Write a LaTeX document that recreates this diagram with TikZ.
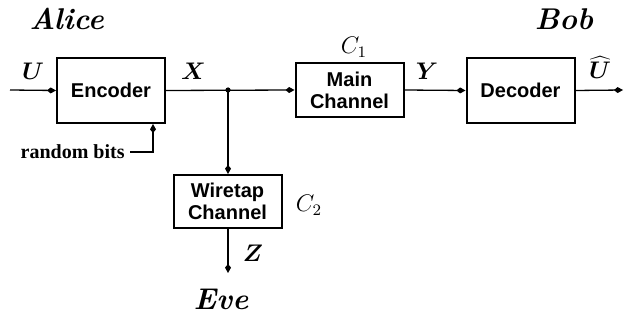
\documentclass[tikz,border=0pt]{standalone}
\usepackage{bm}
\usepackage{fontspec}
\newfontfamily\boxfont{Liberation Sans}
\newfontfamily\bitsfont{Liberation Serif}
\usetikzlibrary{arrows.meta}

\tikzset{
  blk/.style={draw,line width=1pt,minimum width=54pt,minimum height=32.5pt,
    align=center,inner sep=1pt,font=\boxfont\bfseries\fontsize{10}{11}\selectfont},
  sig/.style={line width=0.65pt,-{Kite[length=4.5pt,width=3pt,inset=1.8pt]}},
  party/.style={anchor=base,font=\fontsize{15}{17}\selectfont\bfseries\itshape},
  var/.style={anchor=base,inner sep=0pt,font=\fontsize{12}{14}\selectfont},
  capac/.style={anchor=base,inner sep=0pt,font=\fontsize{12}{14}\selectfont},
}

\begin{document}
\begin{tikzpicture}[x=0.5pt,y=-0.5pt]
  \useasboundingbox (0,0) rectangle (632,320);
  % blocks
  \node[blk] (enc) at (111,90.5) {Encoder};
  \node[blk,minimum height=27pt] (main) at (349.5,90) {Main\\Channel};
  \node[blk] (dec) at (520.5,90.5) {Decoder};
  \node[blk,minimum height=26.5pt] (tap) at (227.5,201.5) {Wiretap\\Channel};
  % free ends
  \coordinate (src) at (10,90);
  \coordinate (sink) at (623,90);
  \coordinate (split) at (228,90);
  \coordinate (eve) at (228,273);
  \node[font=\bitsfont\bfseries\fontsize{10}{12}\selectfont,inner sep=0pt,anchor=east] (rb) at (125,152) {random bits};
  % connectors
  \draw[sig] (src) -- (enc.west);
  \draw[sig] (enc.east) -- (main.west);
  \draw[sig] (main.east) -- (dec.west);
  \draw[sig] (dec.east) -- (sink);
  \draw[sig] (split) -- (tap.north -| split);
  \draw[sig] (tap.south -| split) -- (eve);
  \draw[sig] ([xshift=2.5pt]rb.east) -| ([xshift=21pt]enc.south);
  \fill (split) circle (1.3pt);
  % labels
  \node[var] (lu) at (33,80) {$\bm{U}$};
  \node[var] (lx) at (193.5,80) {$\bm{X}$};
  \node[var] (ly) at (427,80) {$\bm{Y}$};
  \node[var] (lv) at (600,79) {$\widehat{\bm{U}}$};
  \node[var] (lz) at (253,262) {$\bm{Z}$};
  \node[capac] (c1) at (354,54) {$C_1$};
  \node[capac] (c2) at (309,212) {$C_2$};
  \node[party] (alice) at (66.5,29.5) {Alice};
  \node[party] (bob) at (564,29.5) {Bob};
  \node[party] (evename) at (221,310) {Eve};
\end{tikzpicture}
\end{document}
